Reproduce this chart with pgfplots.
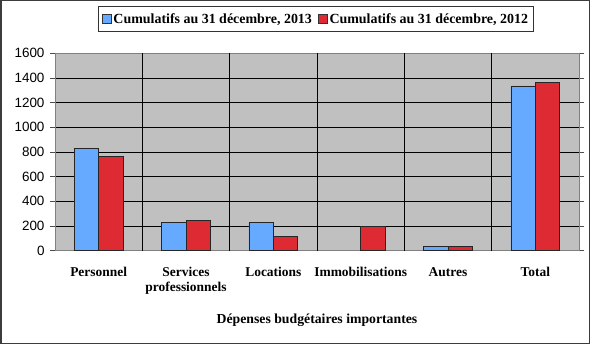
\documentclass[border=0pt]{standalone}
\usepackage{pgfplots}
\pgfplotsset{compat=1.18}
\usepackage{fontspec}
\setmainfont{Liberation Serif}
\newfontfamily\arial{Liberation Sans}
\definecolor{bar13}{RGB}{102,170,255}
\definecolor{bar12}{RGB}{221,42,51}
\definecolor{plotbg}{RGB}{192,192,192}
\definecolor{frame}{RGB}{60,60,60}
\begin{document}
\begin{tikzpicture}
\begin{axis}[
    at={(55bp,93.3bp)}, anchor=south west,
    width=524bp, height=197.4bp, scale only axis,
    xmin=-0.5, xmax=5.5, ymin=0, ymax=1600,
    ytick={0,200,...,1600},
    xtick={0,...,5},
    xticklabels={Personnel, Services\\professionnels, Locations, Immobilisations, Autres, Total},
    xticklabel style={font=\fontsize{13.5}{15.5}\selectfont\bfseries, align=center, yshift=-8bp},
    yticklabel style={font=\fontsize{13.5}{15}\selectfont\arial, xshift=-2bp},
    /pgf/number format/assume math mode=true,
    scaled y ticks=false,
    y tick label style={/pgf/number format/1000 sep={}},
    x tick style={draw=none},
    y tick style={black!70, line width=0.8bp},
    tick align=outside, major tick length=5bp,
    ymajorgrids, major grid style={black, line width=0.9bp},
    axis line style={black!50, line width=0.9bp},
    axis background/.style={fill=plotbg},
    xlabel={Dépenses budgétaires importantes},
    xlabel style={font=\fontsize{13.8}{15}\selectfont\bfseries, at={(rel axis cs:0.5,0)}, anchor=center, yshift=-70bp},
    ybar=0pt, bar width=0.28,
    legend columns=2,
    legend style={at={(rel axis cs:0.498,1.174)}, anchor=center,
        font=\fontsize{14}{16}\selectfont\bfseries, draw=black!80, line width=0.8bp,
        inner xsep=3bp, inner ysep=4.5bp,
        /tikz/every even column/.append style={column sep=4bp}},
    legend image code/.code={\draw[#1, draw=black!80, line width=0.6bp] (0bp,-4bp) rectangle (9bp,5bp);},
]
\addplot[fill=bar13, draw=black!85, line width=0.7bp] coordinates {
  (0,830)(1,230)(2,230)(4,32)(5,1335)};
\addlegendentry{Cumulatifs au 31 décembre, 2013}
\addplot[fill=bar12, draw=black!85, line width=0.7bp] coordinates {
  (0,762)(1,243)(2,113)(3,198)(4,37)(5,1362)};
\addlegendentry{Cumulatifs au 31 décembre, 2012}
\foreach \s in {0.5,1.5,2.5,3.5,4.5} {
  \edef\temp{\noexpand\draw[black, line width=0.9bp] (axis cs:\s,0) -- (axis cs:\s,1600);}
  \temp
}
\end{axis}
\pgfresetboundingbox
\path[use as bounding box] (0,0) rectangle (590bp,344bp);
\draw[frame, line width=1.5bp] (0.75bp,0.75bp) rectangle (589.25bp,343.25bp);
\end{tikzpicture}
\end{document}
